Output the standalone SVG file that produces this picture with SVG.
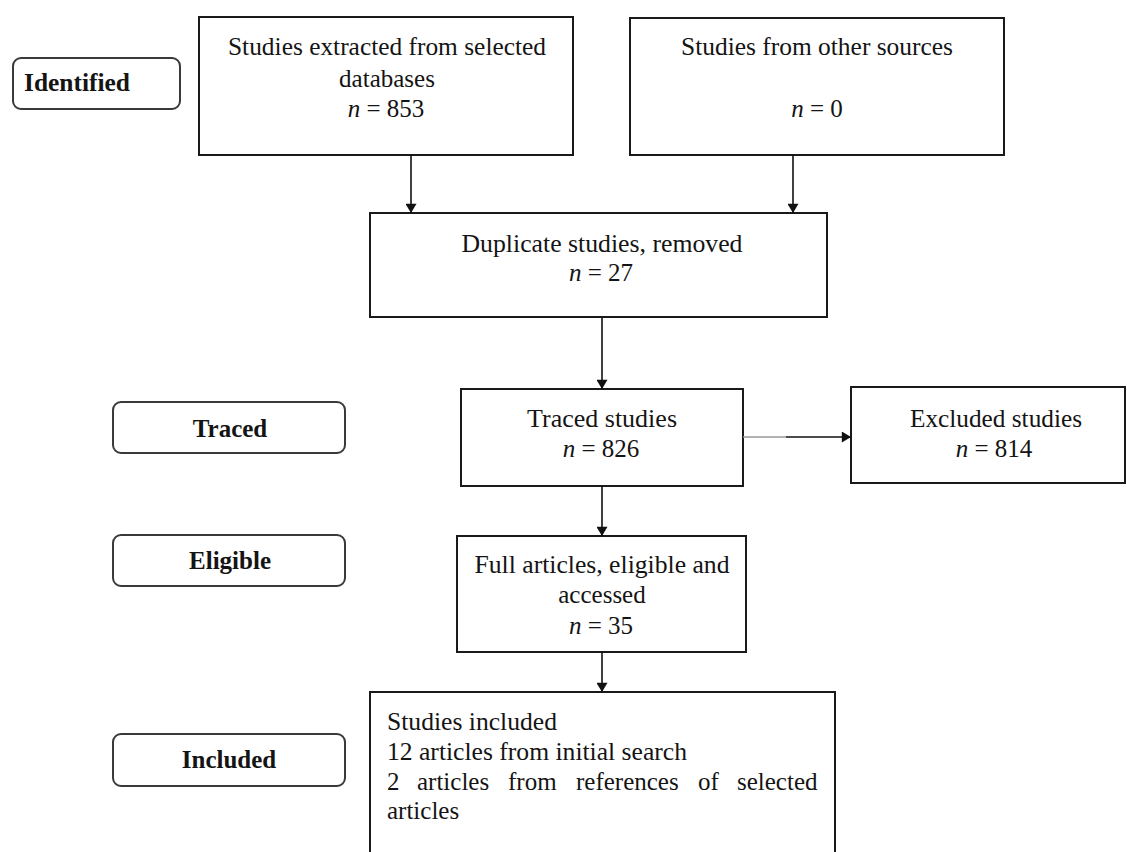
<svg xmlns="http://www.w3.org/2000/svg" width="1127" height="852" viewBox="0 0 1127 852">
<style>
.box{fill:#fff;stroke:#1a1a1a;stroke-width:2}
.lbl{fill:#fff;stroke:#3a3a3a;stroke-width:2}
.t{font-family:"Liberation Serif","Times New Roman",serif;font-size:25px;fill:#141414}
.c{text-anchor:middle}
.b{font-weight:bold;font-size:25px}
.con{stroke:#111;stroke-width:1.6;fill:none}
</style>
<defs>
<marker id="ah" viewBox="0 0 10 12" refX="10" refY="6" markerWidth="12" markerHeight="11" markerUnits="userSpaceOnUse" orient="auto">
<path d="M0,0 L10,6 L0,12 Z" fill="#111"/>
</marker>
</defs>
<rect width="1127" height="852" fill="#fff"/>

<g id="label-identified">
<rect class="lbl" x="13" y="58" width="167" height="51" rx="8"/>
<text class="t b" x="24" y="91" textLength="106" lengthAdjust="spacingAndGlyphs">Identified</text>
</g>
<g id="label-traced">
<rect class="lbl" x="113" y="402" width="232" height="51" rx="8"/>
<text class="t b c" x="230" y="437">Traced</text>
</g>
<g id="label-eligible">
<rect class="lbl" x="113" y="535" width="232" height="51" rx="8"/>
<text class="t b c" x="230" y="569">Eligible</text>
</g>
<g id="label-included">
<rect class="lbl" x="113" y="734" width="232" height="52" rx="8"/>
<text class="t b c" x="229" y="768">Included</text>
</g>

<g id="node-databases">
<rect class="box" x="199" y="17" width="374" height="138"/>
<text class="t c" x="387" y="55" textLength="318" lengthAdjust="spacingAndGlyphs">Studies extracted from selected</text>
<text class="t c" x="387" y="87">databases</text>
<text class="t c" x="386" y="117"><tspan font-style="italic">n</tspan> = 853</text>
</g>
<g id="node-other">
<rect class="box" x="630" y="18" width="374" height="137"/>
<text class="t c" x="817" y="55" textLength="272" lengthAdjust="spacingAndGlyphs">Studies from other sources</text>
<text class="t c" x="817" y="117"><tspan font-style="italic">n</tspan> = 0</text>
</g>
<g id="node-duplicate">
<rect class="box" x="370" y="213" width="457" height="104"/>
<text class="t c" x="602" y="252" textLength="281" lengthAdjust="spacingAndGlyphs">Duplicate studies, removed</text>
<text class="t c" x="601" y="281"><tspan font-style="italic">n</tspan> = 27</text>
</g>
<g id="node-traced">
<rect class="box" x="461" y="389" width="282" height="97"/>
<text class="t c" x="602" y="427" textLength="150" lengthAdjust="spacingAndGlyphs">Traced studies</text>
<text class="t c" x="601" y="457"><tspan font-style="italic">n</tspan> = 826</text>
</g>
<g id="node-excluded">
<rect class="box" x="851" y="387" width="274" height="96"/>
<text class="t c" x="996" y="427" textLength="172" lengthAdjust="spacingAndGlyphs">Excluded studies</text>
<text class="t c" x="994" y="457"><tspan font-style="italic">n</tspan> = 814</text>
</g>
<g id="node-full">
<rect class="box" x="457" y="536" width="289" height="116"/>
<text class="t c" x="602" y="573" textLength="255" lengthAdjust="spacingAndGlyphs">Full articles, eligible and</text>
<text class="t c" x="602" y="603">accessed</text>
<text class="t c" x="601" y="634"><tspan font-style="italic">n</tspan> = 35</text>
</g>
<g id="node-included">
<rect class="box" x="370" y="692" width="465" height="172"/>
<text class="t" x="387" y="730" textLength="170" lengthAdjust="spacingAndGlyphs">Studies included</text>
<text class="t" x="387" y="760" textLength="300" lengthAdjust="spacingAndGlyphs">12 articles from initial search</text>
<text class="t" y="790"><tspan x="387">2</tspan><tspan x="417">articles</tspan><tspan x="508">from</tspan><tspan x="576">references</tspan><tspan x="698">of</tspan><tspan x="737">selected</tspan></text>
<text class="t" x="387" y="819">articles</text>
</g>

<g id="connectors">
<line class="con" x1="411" y1="155" x2="411" y2="213" marker-end="url(#ah)"/>
<line class="con" x1="793" y1="155" x2="793" y2="213" marker-end="url(#ah)"/>
<line class="con" x1="602" y1="317" x2="602" y2="389" marker-end="url(#ah)"/>
<line x1="743" y1="437" x2="786" y2="437" stroke="#9a9a9a" stroke-width="1.6"/>
<line class="con" x1="786" y1="437" x2="851" y2="437" marker-end="url(#ah)"/>
<line class="con" x1="602" y1="486" x2="602" y2="536" marker-end="url(#ah)"/>
<line class="con" x1="602" y1="652" x2="602" y2="692" marker-end="url(#ah)"/>
</g>
</svg>
